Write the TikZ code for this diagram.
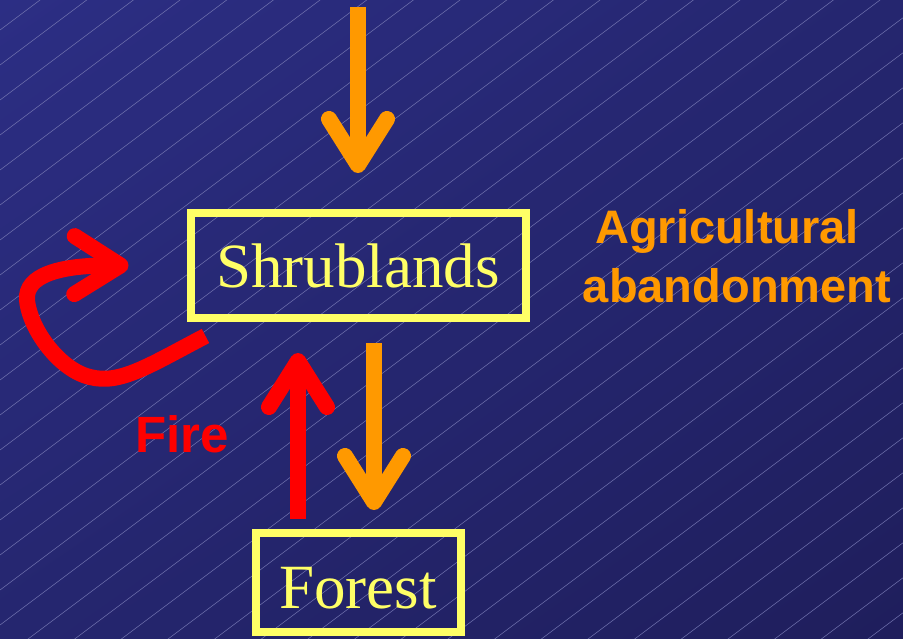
\documentclass[tikz,border=0pt]{standalone}
\usepackage{fontspec}
\setmainfont{Liberation Serif}
\setsansfont{Liberation Sans}
\usetikzlibrary{arrows.meta, positioning, calc, shadings}
\definecolor{bgtop}{HTML}{2C2E84}
\definecolor{bgmid}{HTML}{25266F}
\definecolor{bgbot}{HTML}{1F1E5C}
\definecolor{boxyellow}{HTML}{FFFF66}
\definecolor{agri}{HTML}{FF9900}
\definecolor{fire}{HTML}{FF0000}
\definecolor{hatch}{HTML}{7577B2}

\begin{document}
\begin{tikzpicture}[x=1pt, y=-1pt,
  stage/.style={rectangle, draw=boxyellow, line width=8pt, text=boxyellow,
                font=\fontsize{63}{70}\selectfont, inner sep=0pt},
  flow/.style={-{Straight Barb[round, length=46pt, width=58pt]}, line width=16pt},
  note/.style={font=\sffamily\bfseries\fontsize{47}{59}\selectfont, align=center, inner sep=0pt}
]
  \shade[upper left=bgtop, lower right=bgbot, upper right=bgmid, lower left=bgmid]
    (0,0) rectangle (903,638);
  \useasboundingbox (0,0) rectangle (903,638);
  \begin{scope}
    \clip (0,0) rectangle (903,638);
    \foreach \c in {30,65,...,1325}
      \draw[hatch, line width=0.5pt] (0,\c) -- (903,\c-677.25);
  \end{scope}

  \node[stage, minimum width=335pt, minimum height=105pt] (shrub) at (358,265.5) {Shrublands};
  \node[stage, minimum width=205pt, minimum height=99pt, text height=52pt, text depth=0pt] (forest) at (358,582.5) {Forest};
  \coordinate (src) at (358,7);

  \node[note, text=fire, anchor=base, font=\sffamily\bfseries\fontsize{51}{60}\selectfont] (firelbl) at (182,452) {Fire};
  \node[note, text=agri] (agrilbl) at (737,256) {Agricultural\hspace*{20pt}\\abandonment};

  \draw[flow, agri, shorten >=36pt] (src) -- (shrub.north);
  \draw[flow, agri, shorten <=21pt, shorten >=19pt] ([xshift=16pt]shrub.south) -- ([xshift=16pt]forest.north);
  \draw[flow, fire, shorten <=10pt, shorten >=31pt] ([xshift=-60pt]forest.north) -- ([xshift=-60pt]shrub.south);
  \draw[flow, fire] ([shift={(19,14)}]shrub.south west) .. controls (150,365) and (120,385) .. (90,377)
    .. controls (60,370) and (30,330) .. (27,300) .. controls (25,275) and (60,265) .. ([xshift=-58pt]shrub.west);
\end{tikzpicture}
\end{document}
